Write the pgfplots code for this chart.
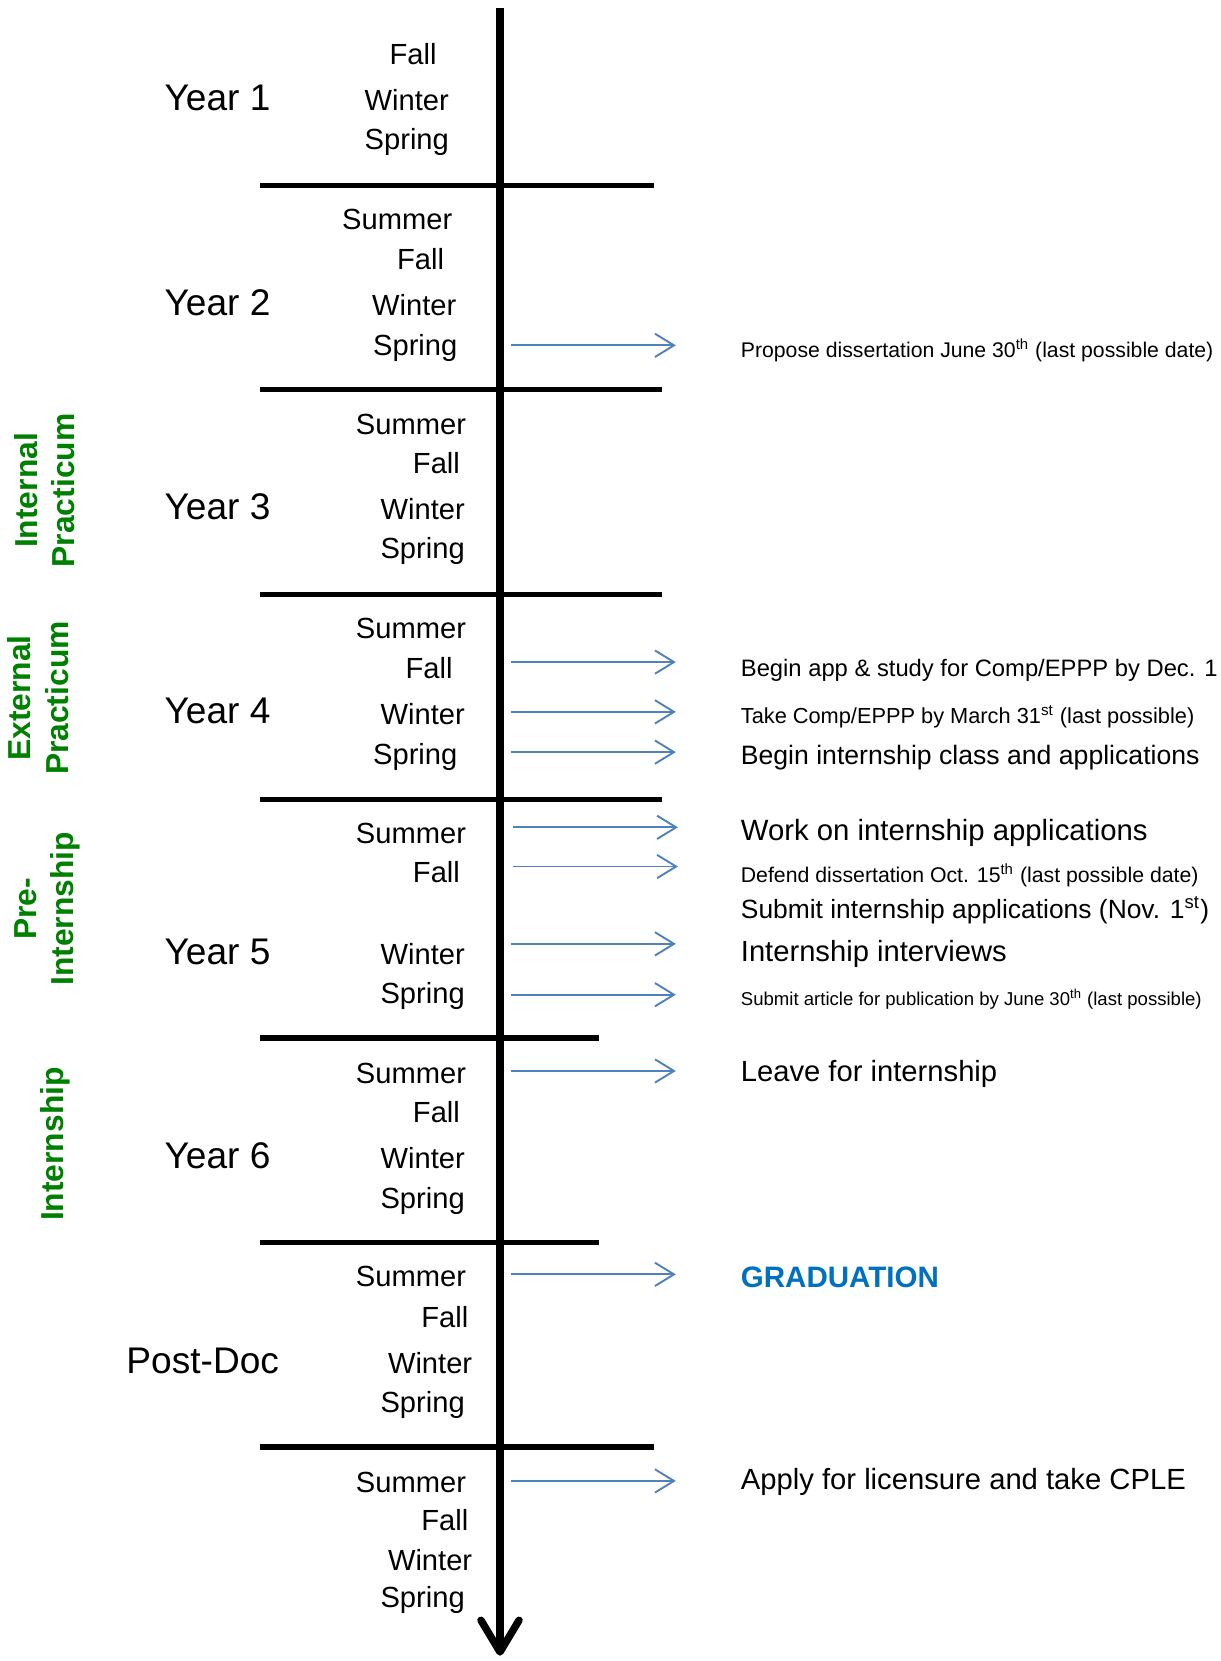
\documentclass[border=0pt]{standalone}
\usepackage{pgfplots}
\pgfplotsset{compat=1.18}
\usepackage{fontspec}
\setmainfont{Liberation Sans}
\usetikzlibrary{arrows.meta}
\definecolor{arrowblue}{RGB}{79,129,189}
\definecolor{gradblue}{RGB}{0,112,192}
\definecolor{phasegreen}{RGB}{0,128,0}

\newcommand{\season}{\fontsize{13.75}{16}\selectfont}
\newcommand{\yearfont}{\fontsize{17.5}{20}\selectfont}
\newcommand{\phasefont}{\fontsize{15}{17.5}\selectfont\bfseries}
\tikzset{lbl/.style={inner sep=0, yshift=-1.2pt}}
% season label, centred
\newcommand{\sn}[3]{\node[lbl, font=\season] at (axis cs:#1,#2) {#3};}
% year label, left edge given
\newcommand{\yr}[3]{\node[lbl, anchor=west, font=\yearfont] at (axis cs:#1,#2) {#3};}
% event text, left edge at x=699, fitted to a width
\newcommand{\ev}[3]{\node[lbl, anchor=west] at (axis cs:699,#1) {\resizebox{#2}{!}{#3}};}

\begin{document}
\begin{tikzpicture}
\begin{axis}[
    name=ax,
    width=576pt, height=784pt,
    scale only axis,
    xmin=0, xmax=1152,
    ymin=0, ymax=1568,
    y dir=reverse,
    hide axis,
    clip=false,
]

% main time axis
\addplot[black, line width=3.5pt, -{Straight Barb[length=15pt,width=18pt,round]}]
    coordinates {(472,8) (472,1563)};

% year separators
\addplot[black, line width=2.5pt] coordinates {(245,175) (617,175)};
\addplot[black, line width=2.5pt] coordinates {(245,368) (625,368)};
\addplot[black, line width=2.5pt] coordinates {(245,561) (625,561)};
\addplot[black, line width=2.5pt] coordinates {(245,755) (625,755)};
\addplot[black, line width=2.5pt] coordinates {(245,980) (565,980)};
\addplot[black, line width=2.5pt] coordinates {(245,1173) (565,1173)};
\addplot[black, line width=2.5pt] coordinates {(245,1366) (617,1366)};

% event arrows
\pgfplotsset{evt/.style={arrowblue, line width=0.9pt, -{Straight Barb[length=9pt,width=11pt]}}}
\addplot[evt] coordinates {(482,326) (638,326)};
\addplot[evt] coordinates {(482,625) (638,625)};
\addplot[evt] coordinates {(482,672) (638,672)};
\addplot[evt] coordinates {(482,710) (638,710)};
\addplot[evt] coordinates {(484,781) (640,781)};
\addplot[evt] coordinates {(484,818) (640,818)};
\addplot[evt] coordinates {(482,891) (638,891)};
\addplot[evt] coordinates {(482,939) (638,939)};
\addplot[evt] coordinates {(482,1011) (638,1011)};
\addplot[evt] coordinates {(482,1203) (638,1203)};
\addplot[evt] coordinates {(482,1398) (638,1398)};

% years
\yr{155}{90}{Year 1}
\yr{155}{283}{Year 2}
\yr{155}{476}{Year 3}
\yr{155}{669}{Year 4}
\yr{155}{896}{Year 5}
\yr{155}{1089}{Year 6}
\yr{119}{1282}{Post-Doc}

% seasons
\sn{390}{49}{Fall} \sn{384}{92}{Winter} \sn{384}{132}{Spring}
\sn{375}{205}{Summer} \sn{397}{242}{Fall} \sn{391}{286}{Winter} \sn{392}{326}{Spring}
\sn{388}{398}{Summer} \sn{412}{435}{Fall} \sn{399}{478}{Winter} \sn{399}{518}{Spring}
\sn{388}{591}{Summer} \sn{405}{628}{Fall} \sn{399}{672}{Winter} \sn{392}{712}{Spring}
\sn{388}{784}{Summer} \sn{412}{821}{Fall} \sn{399}{898}{Winter} \sn{399}{938}{Spring}
\sn{388}{1011}{Summer} \sn{412}{1047}{Fall} \sn{399}{1091}{Winter} \sn{399}{1131}{Spring}
\sn{388}{1203}{Summer} \sn{420}{1241}{Fall} \sn{406}{1284}{Winter} \sn{399}{1324}{Spring}
\sn{388}{1397}{Summer} \sn{420}{1433}{Fall} \sn{406}{1470}{Winter} \sn{399}{1508}{Spring}

% phases
\node[rotate=90, align=center, inner sep=0, text=phasegreen, font=\phasefont]
    at (axis cs:42,463) {Internal\\Practicum};
\node[rotate=90, align=center, inner sep=0, text=phasegreen, font=\phasefont]
    at (axis cs:36,659) {External\\Practicum};
\node[rotate=90, align=center, inner sep=0, text=phasegreen, font=\phasefont]
    at (axis cs:45,858) {Pre-\\Internship};
\node[rotate=90, align=center, inner sep=0, text=phasegreen, font=\phasefont]
    at (axis cs:52,1080) {Internship};

% events
\ev{328}{223pt}{Propose dissertation June 30\textsuperscript{th} (last possible date)}
\ev{630}{225pt}{Begin app \& study for Comp/EPPP by Dec. 1}
\ev{674}{214pt}{Take Comp/EPPP by March 31\textsuperscript{st} (last possible)}
\ev{713}{216.5pt}{Begin internship class and applications}
\ev{784}{192pt}{Work on internship applications}
\ev{824}{216pt}{Defend dissertation Oct. 15\textsuperscript{th} (last possible date)}
\ev{857}{221pt}{Submit internship applications (Nov. 1\textsuperscript{st})}
\ev{898}{125.5pt}{Internship interviews}
\ev{941}{217.5pt}{Submit article for publication by June 30\textsuperscript{th} (last possible)}
\ev{1011}{121pt}{Leave for internship}
\ev{1397}{210pt}{Apply for licensure and take CPLE}
\node[lbl, anchor=west, text=gradblue] at (axis cs:699,1203)
    {\resizebox{93.5pt}{!}{\bfseries GRADUATION}};

\end{axis}
\pgfresetboundingbox
\useasboundingbox (ax.south west) rectangle (ax.north east);
\end{tikzpicture}
\end{document}
